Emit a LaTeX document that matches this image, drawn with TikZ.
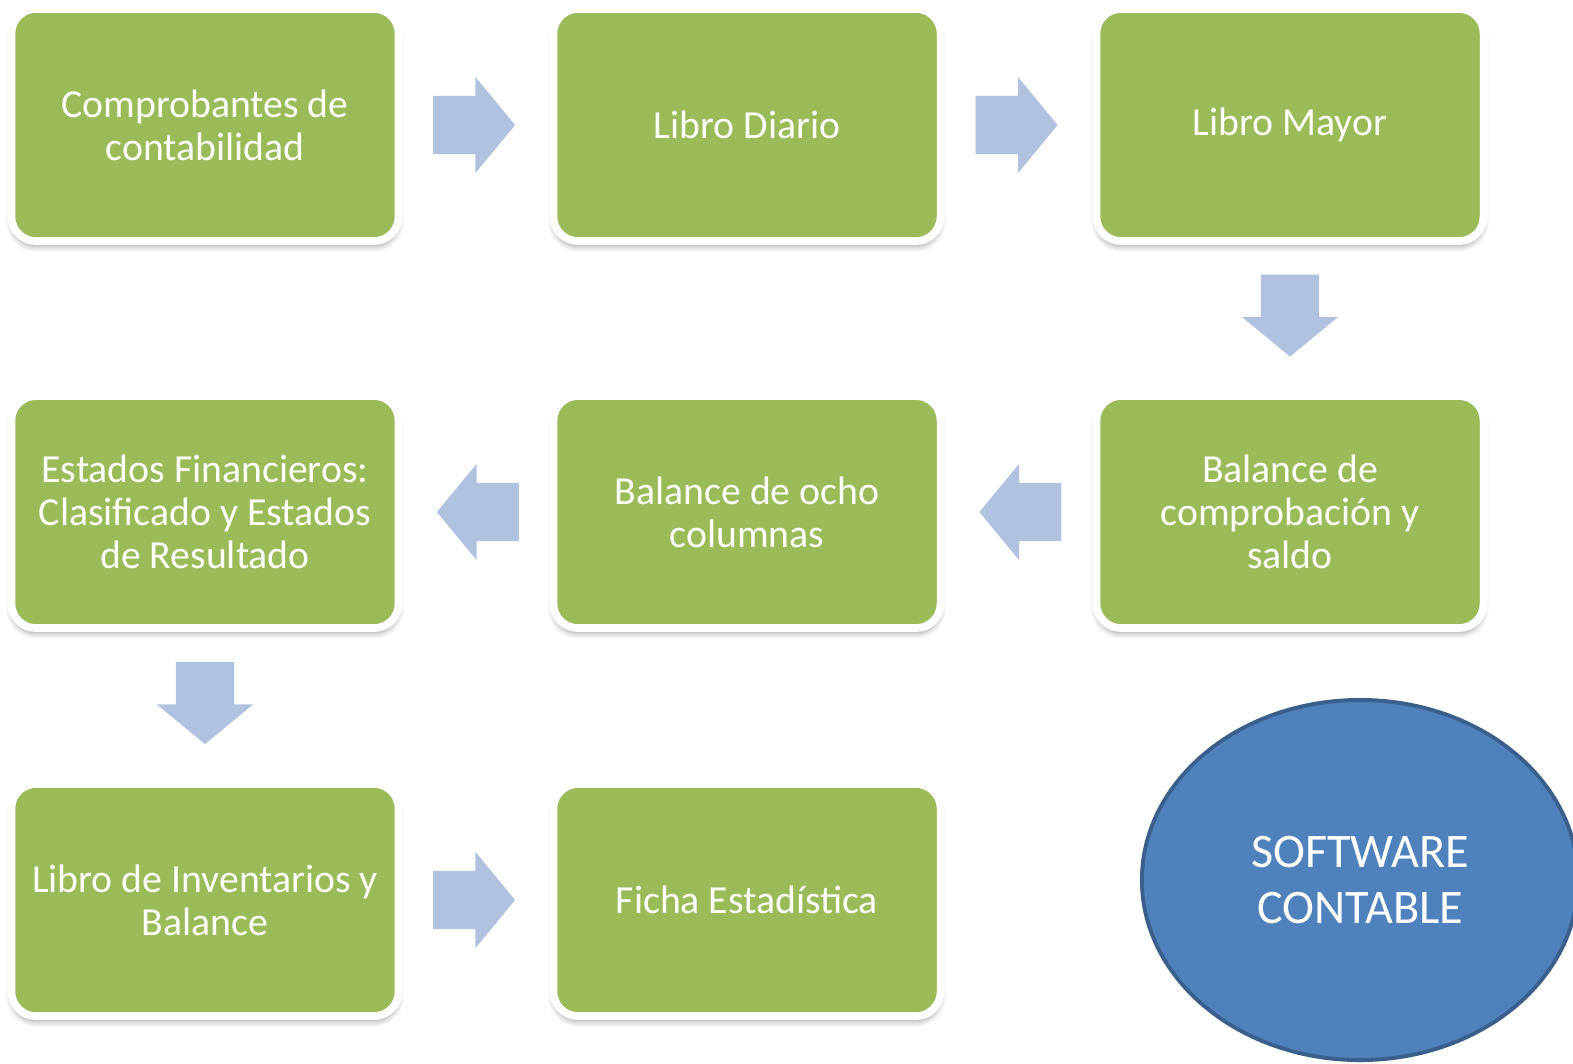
\documentclass[tikz,border=0pt]{standalone}
\usepackage{fontspec}
\setmainfont{Carlito}
\usepackage{tikz}
\usetikzlibrary{shapes.geometric, shapes.arrows, shadows.blur, calc}
\definecolor{boxgreen}{HTML}{9BBB59}
\definecolor{arrowblue}{HTML}{B0C2DE}
\definecolor{softblue}{HTML}{4F81BD}
\definecolor{softedge}{HTML}{3A5F8B}

\begin{document}
\begin{tikzpicture}[x=0.01cm, y=-0.01cm,
    paso/.style={rectangle, rounded corners=7pt, fill=boxgreen, draw=white, line width=2.2pt,
      minimum width=3.87cm, minimum height=2.32cm, text=white, align=center,
      font=\fontsize{11.3}{12.3}\selectfont,
      blur shadow={shadow xshift=0pt, shadow yshift=-1.6pt, shadow blur radius=1.6pt,
        shadow blur steps=6, shadow opacity=35}},
    flecha/.style={single arrow, fill=arrowblue, draw=none, inner xsep=0pt, inner ysep=0.285cm,
      minimum height=0.82cm, single arrow head extend=0.19cm, single arrow tip angle=101,
      anchor=tip}]
      \useasboundingbox (0, 0) rectangle (1573, 1063);
      \clip (0, 0) rectangle (1573, 1063);

      % first row
      \node[paso] (comp) at (205, 125) {Comprobantes de\\contabilidad};
      \node[paso] (diario) at (747, 125) {Libro Diario};
      \node[paso] (mayor) at (1290, 125) {Libro Mayor};

      % second row
      \node[paso] (estados) at (205, 512) {Estados Financieros:\\Clasificado y Estados\\de Resultado};
      \node[paso] (ocho) at (747, 512) {Balance de ocho\\columnas};
      \node[paso] (comprob) at (1290, 512) {Balance de\\comprobación y\\saldo};

      % third row
      \node[paso] (inv) at (205, 900) {Libro de Inventarios y\\Balance};
      \node[paso] (ficha) at (747, 900) {Ficha Estadística};

      \node[ellipse, fill=softblue, draw=softedge, line width=1.1pt, minimum width=4.36cm,
        minimum height=3.6cm, text=white, align=center,
        font=\fontsize{13.7}{16.2}\selectfont] (soft) at (1360, 880) {SOFTWARE\\CONTABLE};

      % block arrows, tip placed 41 past the middle of the gap
      \node[flecha] (f1) at ($(comp.east)!0.5!(diario.west)+(40,0)$) {};
      \node[flecha] (f2) at ($(diario.east)!0.5!(mayor.west)+(40,0)$) {};
      \node[flecha, rotate=-90] (f3) at ($(mayor.south)!0.5!(comprob.north)+(0,39)$) {};
      \node[flecha, rotate=180] (f4) at ($(comprob.west)!0.5!(ocho.east)+(-40,0)$) {};
      \node[flecha, rotate=180] (f5) at ($(ocho.west)!0.5!(estados.east)+(-40,0)$) {};
      \node[flecha, rotate=-90] (f6) at ($(estados.south)!0.5!(inv.north)+(0,39)$) {};
      \node[flecha] (f7) at ($(inv.east)!0.5!(ficha.west)+(40,0)$) {};
    \end{tikzpicture}
\end{document}
